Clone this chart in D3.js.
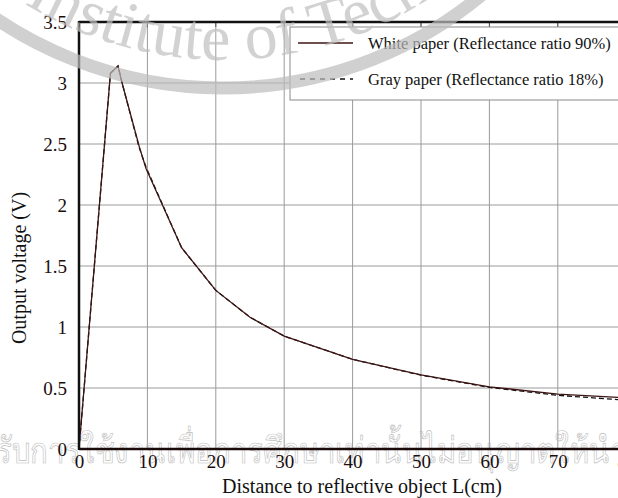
<!DOCTYPE html>
<html>
<head>
<meta charset="utf-8">
<script src="https://cdn.jsdelivr.net/npm/d3@7"></script>
<style>
  body { margin: 0; background: #fff; }
  svg { display: block; }
  svg text { font-family: 'Liberation Serif', 'Times New Roman', serif; }
</style>
</head>
<body>
<svg id="chart" width="618" height="498"></svg>
<script>
// distances (cm) and output voltage (V)
const distance = [0, 4.6, 5.7, 6.3, 8.8, 9.8, 15, 20, 25, 30, 40, 50, 60, 70, 80];
const whitePaper = [0, 3.08, 3.14, 3.0, 2.48, 2.30, 1.65, 1.30, 1.08, 0.925, 0.735, 0.607, 0.51, 0.45, 0.42];
const grayPaper = [0, 3.08, 3.14, 3.0, 2.47, 2.31, 1.65, 1.30, 1.08, 0.925, 0.735, 0.605, 0.505, 0.44, 0.40];
const xTicks = [0, 10, 20, 30, 40, 50, 60, 70, 80];
const yTicks = [0, 0.5, 1, 1.5, 2, 2.5, 3, 3.5];
const legendLabels = ['White paper (Reflectance ratio 90%)', 'Gray paper (Reflectance ratio 18%)'];

const serif = 'Liberation Serif, Times New Roman, serif';
const svg = d3.select('#chart');

const x = d3.scaleLinear().domain([0, 80]).range([79, 626.2]);
const y = d3.scaleLinear().domain([0, 3.5]).range([449, 22]);

// grid
svg.append('g')
  .selectAll('line')
  .data(xTicks.slice(1))
  .enter()
  .append('line')
  .attr('x1', d => x(d)).attr('x2', d => x(d))
  .attr('y1', y(0)).attr('y2', y(3.5))
  .attr('stroke', '#9a9a9a').attr('stroke-width', 1);

svg.append('g')
  .selectAll('line')
  .data(yTicks.slice(1, -1))
  .enter()
  .append('line')
  .attr('x1', x(0)).attr('x2', x(80))
  .attr('y1', d => y(d)).attr('y2', d => y(d))
  .attr('stroke', '#9a9a9a').attr('stroke-width', 1);

// small ticks on top frame
svg.append('g')
  .selectAll('line')
  .data(xTicks.slice(1))
  .enter()
  .append('line')
  .attr('x1', d => x(d)).attr('x2', d => x(d))
  .attr('y1', y(3.5)).attr('y2', y(3.5) + 5)
  .attr('stroke', '#555');

// curves
const pts = (vals) => distance.map((d, i) => [d, vals[i]]);
const line = d3.line().x(d => x(d[0])).y(d => y(d[1]));

svg.append('path')
  .attr('d', line(pts(grayPaper)))
  .attr('fill', 'none')
  .attr('stroke', '#111')
  .attr('stroke-width', 1.3)
  .attr('stroke-dasharray', '5,3');

svg.append('path')
  .attr('d', line(pts(whitePaper)))
  .attr('fill', 'none')
  .attr('stroke', '#3d1414')
  .attr('stroke-width', 1.3);

// thai watermark line, outlined
svg.append('text')
  .attr('x', -4).attr('y', 463)
  .attr('font-family', '"Noto Sans", "DejaVu Sans", sans-serif')
  .attr('font-size', 36)
  .attr('fill', 'none')
  .attr('stroke', '#bdbdbd')
  .attr('stroke-width', 0.7)
  .attr('textLength', 630)
  .attr('lengthAdjust', 'spacingAndGlyphs')
  .text('รับการใช้งานเพื่อการศึกษาเท่านั้นไม่อนุญาตให้นำ');

// axes
const xAxis = svg.append('g')
  .attr('transform', `translate(0,${y(0)})`)
  .call(d3.axisBottom(x).tickValues(xTicks).tickSize(0).tickPadding(6).tickFormat(d3.format('d')));
const yAxis = svg.append('g')
  .attr('transform', `translate(${x(0)},0)`)
  .call(d3.axisLeft(y).tickValues(yTicks).tickSize(0).tickPadding(12).tickFormat(d => d));

[xAxis, yAxis].forEach(a => {
  a.attr('font-family', serif);
  a.select('.domain').remove();
  a.selectAll('text')
    .attr('font-family', serif)
    .attr('font-size', 19)
    .attr('fill', '#1a0d0d');
});

// frame
svg.append('line')
  .attr('x1', x(0)).attr('x2', 618)
  .attr('y1', y(0)).attr('y2', y(0))
  .attr('stroke', '#1a0a0a').attr('stroke-width', 2.5);
svg.append('line')
  .attr('x1', x(0)).attr('x2', 618)
  .attr('y1', y(3.5)).attr('y2', y(3.5))
  .attr('stroke', '#111').attr('stroke-width', 2.5);
svg.append('line')
  .attr('x1', x(0)).attr('x2', x(0))
  .attr('y1', y(3.5) - 1).attr('y2', y(0) + 1)
  .attr('stroke', '#111').attr('stroke-width', 2.5);

// legend
const lg = svg.append('g');
lg.append('rect')
  .attr('x', 290).attr('y', 27)
  .attr('width', 360).attr('height', 73)
  .attr('fill', '#fff')
  .attr('stroke', '#8a8a8a').attr('stroke-width', 1);

lg.append('line')
  .attr('x1', 298).attr('x2', 353).attr('y1', 43).attr('y2', 43)
  .attr('stroke', '#3d1414').attr('stroke-width', 1.3);
lg.append('line')
  .attr('x1', 300).attr('x2', 353).attr('y1', 79).attr('y2', 79)
  .attr('stroke', '#111').attr('stroke-width', 1.3)
  .attr('stroke-dasharray', '5,5');

lg.selectAll('text')
  .data(legendLabels)
  .enter()
  .append('text')
  .attr('x', 368)
  .attr('y', (d, i) => i === 0 ? 43 : 79)
  .attr('dy', '0.35em')
  .attr('font-family', serif)
  .attr('font-size', 16.5)
  .attr('fill', '#111')
  .text(d => d);

// axis titles
svg.append('text')
  .attr('x', 362).attr('y', 493)
  .attr('text-anchor', 'middle')
  .attr('font-family', serif)
  .attr('font-size', 20)
  .attr('fill', '#111')
  .text('Distance to reflective object L(cm)');

svg.append('text')
  .attr('transform', 'translate(26,268) rotate(-90)')
  .attr('text-anchor', 'middle')
  .attr('font-family', serif)
  .attr('font-size', 20)
  .attr('fill', '#111')
  .text('Output voltage (V)');

// watermark band + arc text, laid over the chart
const wm = svg.append('g').attr('pointer-events', 'none').attr('opacity', 0.7);
const cx = 223, cy = -318;
wm.append('circle')
  .attr('cx', cx).attr('cy', cy).attr('r', 406)
  .attr('fill', 'none')
  .attr('stroke', '#bdbdbd').attr('stroke-width', 13);

const r = 378;
svg.append('defs').append('path')
  .attr('id', 'arc')
  .attr('d', `M${cx - r},${cy} A${r},${r} 0 0 0 ${cx + r},${cy}`);

wm.append('text')
  .attr('font-family', serif)
  .attr('font-size', 66)
  .attr('fill', '#c0c0c0')
  .append('textPath')
  .attr('href', '#arc')
  .attr('startOffset', 384)
  .text('Institute of Technology');
</script>
</body>
</html>
